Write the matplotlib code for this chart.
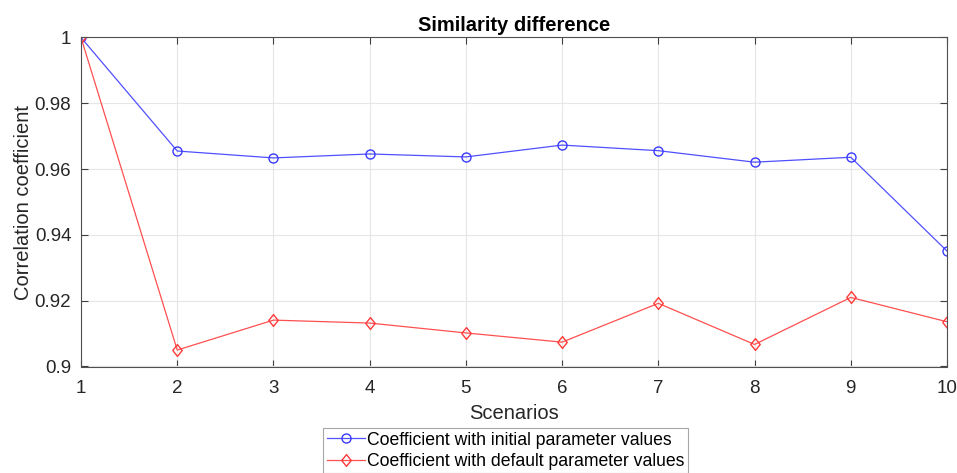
import numpy as np
import matplotlib.pyplot as plt
from matplotlib.path import Path

# scenario numbers and correlation coefficients per run
scenarios = np.arange(1, 11)
coef_initial = [1.0, 0.9655, 0.9634, 0.9646, 0.9637, 0.9673, 0.9656, 0.9621, 0.9636, 0.9351]
coef_default = [1.0, 0.9050, 0.9141, 0.9132, 0.9102, 0.9074, 0.9192, 0.9067, 0.9210, 0.9136]

plt.rcParams['font.family'] = ['Liberation Sans', 'DejaVu Sans']

# slightly tall diamond, like matlab's 'd'
diamond = Path([(0, 1), (0.8, 0), (0, -1), (-0.8, 0), (0, 1)],
               [Path.MOVETO, Path.LINETO, Path.LINETO, Path.LINETO, Path.CLOSEPOLY])

fig = plt.figure(figsize=(9.57, 4.73), dpi=100)
ax = fig.add_axes([81/957, (473-366.5)/473, (947-81)/957, (366.5-37.5)/473])

ax.plot(scenarios, coef_initial, color='#5050ff', lw=0.9, marker='o', ms=6.5,
        mfc='none', mec='#3a3aff', mew=1.0, label='Coefficient with initial parameter values')
ax.plot(scenarios, coef_default, color='#ff5050', lw=0.9, marker=diamond, ms=8.5,
        mfc='none', mec='#ff3a3a', mew=1.0, label='Coefficient with default parameter values')

ax.set_xlim(1, 10)
ax.set_ylim(0.9, 1.0)
ax.set_xticks(scenarios)
ax.set_yticks([0.9, 0.92, 0.94, 0.96, 0.98, 1.0])
ax.set_yticklabels(['0.9', '0.92', '0.94', '0.96', '0.98', '1'])

# matlab-like box with inward ticks on all sides
ax.grid(True, color='#e6e6e6', lw=0.8)
ax.set_axisbelow(True)
ax.tick_params(direction='in', top=True, right=True, length=5, width=0.8,
               color='#404040', labelsize=13.5, labelcolor='#262626')
ax.tick_params(axis='x', pad=10)
ax.tick_params(axis='y', pad=7)
for s in ax.spines.values():
    s.set_color('#505050')
    s.set_linewidth(0.8)

ax.set_xlabel('Scenarios', fontsize=14.5, color='#262626', labelpad=5)
ax.set_ylabel('Correlation coefficient', fontsize=14.5, color='#262626', labelpad=1)
ax.set_title('Similarity difference', fontsize=14.5, fontweight='bold', pad=5)

leg = fig.legend(loc='upper left', bbox_to_anchor=(323/957, 1 - 428/473),
                 fontsize=12.7, frameon=True, fancybox=False, handlelength=2.2,
                 handletextpad=0.1, borderpad=0.2, labelspacing=0.25,
                 borderaxespad=0)
leg.get_frame().set_edgecolor('#909090')
leg.get_frame().set_linewidth(0.8)

fig.savefig('out.png', dpi=100)
